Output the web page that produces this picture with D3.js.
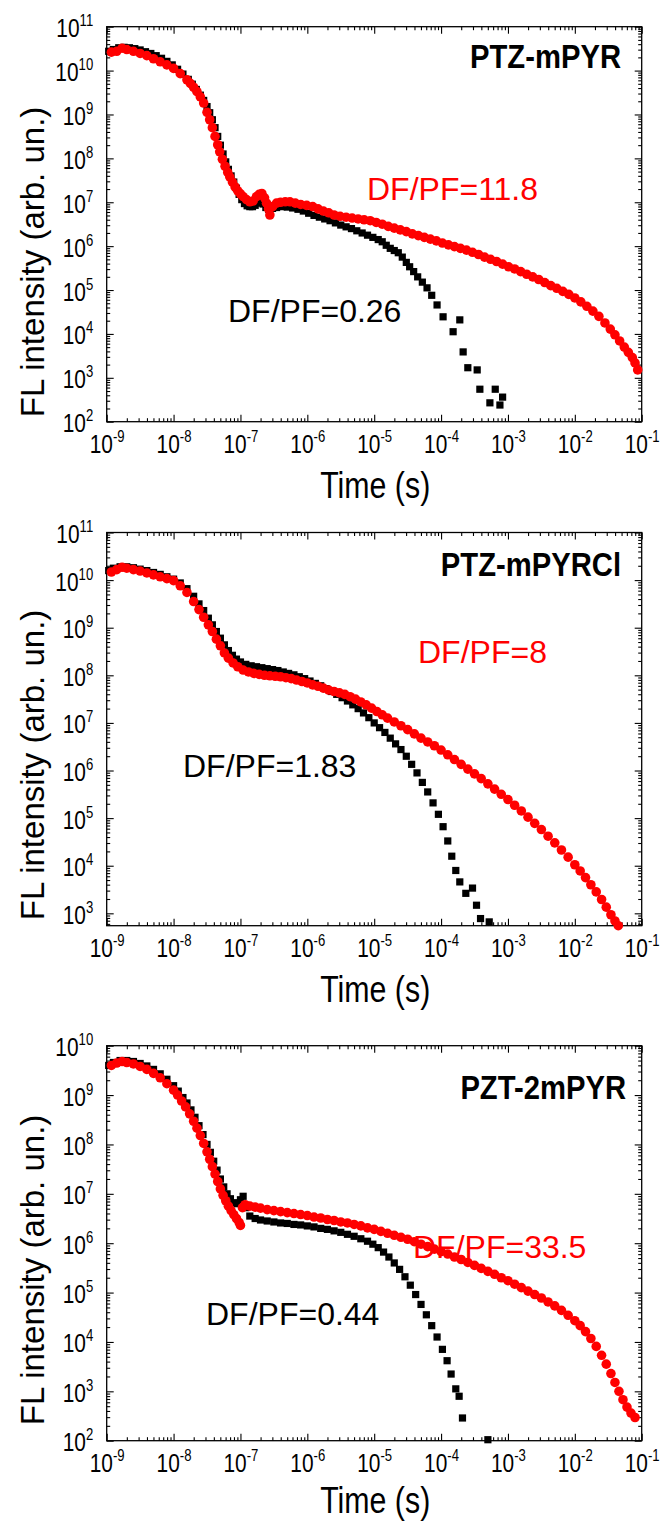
<!DOCTYPE html>
<html>
<head>
<meta charset="utf-8">
<title>FL decays</title>
<script src="https://cdnjs.cloudflare.com/ajax/libs/d3/7.8.5/d3.min.js"></script>
<style>
  body { margin: 0; background: #fff; }
  svg text { font-family: "Liberation Sans", Arial, sans-serif; fill: #000; }
  .frame { fill: none; stroke: #000; stroke-width: 1.3px; }
  .tick line { stroke: #000; stroke-width: 1.1px; }
  .domain { display: none; }
</style>
</head>
<body>
<div id="canvas"></div>
<script>
// every point is [log10 time (s), log10 FL intensity]
var p1Black = [[-8.97,10.44],[-8.9,10.48],[-8.82,10.52],[-8.74,10.53],[-8.66,10.52],[-8.58,10.5],[-8.5,10.47],[-8.42,10.43],[-8.34,10.39],[-8.26,10.34],[-8.18,10.28],[-8.1,10.21],[-8.02,10.13],[-7.94,10.03],[-7.86,9.92],[-7.78,9.8],[-7.72,9.69],[-7.66,9.57],[-7.6,9.44],[-7.55,9.32],[-7.5,9.18],[-7.46,9.04],[-7.42,8.88],[-7.38,8.7],[-7.34,8.5],[-7.3,8.3],[-7.26,8.1],[-7.22,7.92],[-7.18,7.75],[-7.14,7.6],[-7.1,7.46],[-7.06,7.32],[-7.02,7.18],[-6.98,7.06],[-6.94,6.97],[-6.9,6.92],[-6.86,6.9],[-6.82,6.9],[-6.78,6.93],[-6.74,6.98],[-6.7,7.02],[-6.66,6.96],[-6.62,6.88],[-6.58,6.84],[-6.52,6.86],[-6.46,6.88],[-6.38,6.9],[-6.3,6.89],[-6.22,6.87],[-6.14,6.84],[-6.06,6.8],[-5.98,6.75],[-5.9,6.7],[-5.82,6.66],[-5.74,6.62],[-5.66,6.58],[-5.58,6.53],[-5.5,6.48],[-5.42,6.44],[-5.34,6.4],[-5.26,6.35],[-5.18,6.3],[-5.1,6.25],[-5.02,6.2],[-4.94,6.15],[-4.88,6.1],[-4.82,6.02],[-4.76,5.95],[-4.7,5.9],[-4.64,5.85],[-4.58,5.75],[-4.52,5.63],[-4.47,5.53],[-4.41,5.42],[-4.35,5.3],[-4.28,5.18],[-4.21,5.05],[-4.14,4.88],[-4.06,4.66],[-3.97,4.39],[-3.82,4.05],[-3.72,4.32],[-3.67,3.59],[-3.6,3.23],[-3.46,3.18],[-3.42,2.74],[-3.27,2.43],[-3.19,2.74],[-3.12,2.38],[-3.08,2.56]];
var p1Red = [[-8.93,10.42],[-8.85,10.44],[-8.77,10.51],[-8.7,10.48],[-8.6,10.44],[-8.5,10.39],[-8.4,10.34],[-8.3,10.27],[-8.2,10.2],[-8.1,10.13],[-8.0,10.05],[-7.9,9.93],[-7.8,9.79],[-7.75,9.71],[-7.7,9.62],[-7.65,9.52],[-7.6,9.4],[-7.55,9.26],[-7.5,9.05],[-7.46,8.88],[-7.42,8.7],[-7.38,8.5],[-7.34,8.31],[-7.31,8.15],[-7.27,7.98],[-7.23,7.82],[-7.19,7.68],[-7.16,7.58],[-7.12,7.46],[-7.08,7.35],[-7.04,7.26],[-7.0,7.19],[-6.96,7.13],[-6.91,7.06],[-6.86,7.01],[-6.81,7.03],[-6.76,7.13],[-6.72,7.18],[-6.68,7.2],[-6.64,7.1],[-6.61,6.98],[-6.58,6.85],[-6.56,6.71],[-6.52,6.9],[-6.46,6.98],[-6.4,7.0],[-6.33,7.01],[-6.26,7.01],[-6.18,6.98],[-6.1,6.95],[-6.01,6.93],[-5.92,6.9],[-5.84,6.85],[-5.76,6.8],[-5.68,6.76],[-5.6,6.71],[-5.51,6.68],[-5.42,6.66],[-5.33,6.64],[-5.24,6.62],[-5.15,6.6],[-5.06,6.58],[-4.97,6.54],[-4.88,6.5],[-4.79,6.45],[-4.7,6.41],[-4.61,6.37],[-4.52,6.33],[-4.43,6.28],[-4.34,6.24],[-4.25,6.2],[-4.16,6.16],[-4.07,6.12],[-3.98,6.07],[-3.89,6.03],[-3.8,5.99],[-3.71,5.95],[-3.62,5.91],[-3.53,5.86],[-3.44,5.81],[-3.35,5.75],[-3.26,5.7],[-3.17,5.65],[-3.08,5.59],[-2.99,5.53],[-2.9,5.48],[-2.81,5.42],[-2.72,5.36],[-2.63,5.3],[-2.54,5.24],[-2.45,5.17],[-2.36,5.1],[-2.27,5.04],[-2.18,4.97],[-2.09,4.9],[-2.0,4.82],[-1.91,4.73],[-1.82,4.63],[-1.73,4.52],[-1.64,4.4],[-1.55,4.25],[-1.47,4.11],[-1.4,3.98],[-1.33,3.84],[-1.26,3.7],[-1.2,3.58],[-1.14,3.46],[-1.1,3.34],[-1.06,3.18]];

var p2Black = [[-8.97,10.2],[-8.9,10.25],[-8.8,10.28],[-8.7,10.28],[-8.6,10.26],[-8.5,10.23],[-8.4,10.2],[-8.3,10.16],[-8.2,10.12],[-8.1,10.07],[-8.0,10.02],[-7.9,9.94],[-7.8,9.82],[-7.7,9.66],[-7.62,9.5],[-7.55,9.36],[-7.48,9.2],[-7.42,9.06],[-7.36,8.92],[-7.3,8.78],[-7.24,8.64],[-7.18,8.52],[-7.12,8.42],[-7.06,8.34],[-7.0,8.28],[-6.92,8.23],[-6.84,8.2],[-6.76,8.18],[-6.68,8.16],[-6.6,8.14],[-6.52,8.12],[-6.44,8.1],[-6.36,8.07],[-6.28,8.04],[-6.2,8.01],[-6.12,7.97],[-6.04,7.93],[-5.96,7.88],[-5.88,7.83],[-5.8,7.78],[-5.72,7.72],[-5.64,7.66],[-5.56,7.6],[-5.48,7.53],[-5.4,7.46],[-5.32,7.38],[-5.24,7.3],[-5.16,7.21],[-5.08,7.11],[-5.0,7.0],[-4.92,6.9],[-4.84,6.8],[-4.76,6.68],[-4.68,6.56],[-4.6,6.44],[-4.52,6.3],[-4.44,6.13],[-4.36,5.95],[-4.28,5.75],[-4.2,5.55],[-4.12,5.32],[-4.04,5.08],[-3.97,4.82],[-3.9,4.52],[-3.84,4.2],[-3.78,3.9],[-3.72,3.66],[-3.63,3.42],[-3.53,3.53],[-3.47,3.17],[-3.41,2.89],[-3.28,2.82]];
var p2Red = [[-8.93,10.17],[-8.85,10.22],[-8.77,10.27],[-8.7,10.25],[-8.6,10.22],[-8.5,10.19],[-8.4,10.15],[-8.3,10.11],[-8.2,10.07],[-8.1,10.03],[-8.0,9.99],[-7.9,9.88],[-7.8,9.74],[-7.7,9.55],[-7.62,9.38],[-7.55,9.22],[-7.48,9.06],[-7.42,8.92],[-7.36,8.76],[-7.3,8.62],[-7.24,8.47],[-7.18,8.36],[-7.11,8.26],[-7.04,8.18],[-6.96,8.11],[-6.88,8.07],[-6.8,8.04],[-6.72,8.02],[-6.64,8.0],[-6.56,7.99],[-6.48,7.98],[-6.4,7.97],[-6.32,7.95],[-6.24,7.93],[-6.16,7.9],[-6.08,7.87],[-6.0,7.84],[-5.92,7.8],[-5.84,7.77],[-5.76,7.73],[-5.68,7.69],[-5.6,7.66],[-5.52,7.63],[-5.44,7.6],[-5.36,7.55],[-5.28,7.5],[-5.2,7.44],[-5.12,7.38],[-5.04,7.31],[-4.96,7.24],[-4.88,7.17],[-4.8,7.1],[-4.7,7.02],[-4.6,6.94],[-4.5,6.86],[-4.4,6.77],[-4.3,6.68],[-4.2,6.6],[-4.1,6.52],[-4.0,6.43],[-3.9,6.33],[-3.8,6.23],[-3.7,6.13],[-3.6,6.03],[-3.5,5.93],[-3.4,5.83],[-3.3,5.72],[-3.2,5.61],[-3.1,5.5],[-3.0,5.39],[-2.9,5.27],[-2.8,5.15],[-2.7,5.02],[-2.6,4.89],[-2.5,4.76],[-2.4,4.62],[-2.3,4.48],[-2.2,4.33],[-2.1,4.18],[-2.0,4.02],[-1.92,3.89],[-1.84,3.75],[-1.76,3.6],[-1.68,3.45],[-1.6,3.29],[-1.53,3.13],[-1.46,2.97],[-1.4,2.84],[-1.35,2.74]];

var p3Black = [[-8.97,9.6],[-8.9,9.66],[-8.8,9.7],[-8.7,9.7],[-8.6,9.68],[-8.5,9.64],[-8.4,9.59],[-8.3,9.52],[-8.2,9.43],[-8.1,9.32],[-8.0,9.19],[-7.93,9.08],[-7.86,8.95],[-7.8,8.84],[-7.74,8.7],[-7.68,8.55],[-7.62,8.38],[-7.56,8.2],[-7.5,8.0],[-7.45,7.84],[-7.4,7.66],[-7.35,7.48],[-7.3,7.3],[-7.25,7.14],[-7.2,7.0],[-7.15,6.9],[-7.1,6.82],[-7.05,6.8],[-7.0,6.88],[-6.96,6.95],[-6.92,6.72],[-6.86,6.55],[-6.78,6.5],[-6.7,6.47],[-6.6,6.45],[-6.5,6.43],[-6.4,6.41],[-6.3,6.4],[-6.2,6.38],[-6.1,6.37],[-6.0,6.35],[-5.9,6.33],[-5.8,6.3],[-5.7,6.28],[-5.6,6.25],[-5.5,6.22],[-5.4,6.18],[-5.3,6.14],[-5.2,6.09],[-5.1,6.04],[-5.02,5.98],[-4.94,5.91],[-4.86,5.82],[-4.78,5.72],[-4.7,5.6],[-4.62,5.47],[-4.54,5.32],[-4.46,5.15],[-4.38,4.96],[-4.3,4.76],[-4.22,4.55],[-4.14,4.33],[-4.06,4.1],[-3.98,3.85],[-3.91,3.62],[-3.85,3.35],[-3.78,3.05],[-3.73,2.9],[-3.68,2.46],[-3.3,2.02]];
var p3Red = [[-8.93,9.6],[-8.85,9.65],[-8.77,9.68],[-8.7,9.66],[-8.6,9.63],[-8.5,9.58],[-8.4,9.52],[-8.3,9.44],[-8.2,9.35],[-8.1,9.23],[-8.0,9.1],[-7.94,9.0],[-7.88,8.88],[-7.82,8.76],[-7.76,8.62],[-7.7,8.47],[-7.65,8.33],[-7.6,8.18],[-7.55,8.02],[-7.5,7.85],[-7.46,7.7],[-7.42,7.55],[-7.38,7.4],[-7.34,7.25],[-7.3,7.1],[-7.26,6.97],[-7.22,6.86],[-7.18,6.75],[-7.14,6.66],[-7.1,6.58],[-7.06,6.5],[-7.02,6.42],[-7.0,6.36],[-6.97,6.72],[-6.93,6.78],[-6.86,6.75],[-6.78,6.73],[-6.7,6.71],[-6.6,6.68],[-6.5,6.66],[-6.4,6.64],[-6.3,6.62],[-6.2,6.6],[-6.1,6.58],[-6.0,6.56],[-5.9,6.53],[-5.8,6.51],[-5.7,6.48],[-5.6,6.46],[-5.5,6.43],[-5.4,6.41],[-5.3,6.38],[-5.2,6.35],[-5.1,6.31],[-5.0,6.28],[-4.9,6.24],[-4.8,6.2],[-4.7,6.16],[-4.6,6.12],[-4.5,6.08],[-4.4,6.03],[-4.3,5.98],[-4.2,5.93],[-4.1,5.88],[-4.0,5.83],[-3.9,5.78],[-3.8,5.72],[-3.7,5.67],[-3.6,5.61],[-3.5,5.55],[-3.4,5.49],[-3.3,5.43],[-3.2,5.37],[-3.1,5.3],[-3.0,5.24],[-2.9,5.17],[-2.8,5.1],[-2.7,5.03],[-2.6,4.96],[-2.5,4.89],[-2.4,4.81],[-2.3,4.73],[-2.2,4.64],[-2.1,4.54],[-2.0,4.43],[-1.92,4.33],[-1.84,4.21],[-1.76,4.07],[-1.68,3.91],[-1.6,3.73],[-1.53,3.55],[-1.46,3.36],[-1.4,3.18],[-1.34,3.0],[-1.28,2.83],[-1.22,2.68],[-1.16,2.56],[-1.1,2.47]];

var panelNames = ["PTZ-mPYR", "PTZ-mPYRCl", "PZT-2mPYR"];
var blackLabels = ["DF/PF=0.26", "DF/PF=1.83", "DF/PF=0.44"];
var redLabels = ["DF/PF=11.8", "DF/PF=8", "DF/PF=33.5"];
var yDomains = [[1e2, 1e11], [Math.pow(10, 2.74), 1e11], [1e2, 1e10]];
var xTickExps = [-9, -8, -7, -6, -5, -4, -3, -2, -1];
var xTitle = "Time (s)";
var yTitle = "FL intensity (arb. un.)";

/*
 Layout
*/
var W = 662, H = 1521, plotLeft = 106.7, plotRight = 641.7, narrow = 0.82;
var panels = [
  { top: 26.7, bottom: 421.7, xTitleY: 498, titleAt: [621, 68], blackAt: [228, 322], redAt: [367, 200], yTitleY: 262, black: p1Black, red: p1Red },
  { top: 532.5, bottom: 925.7, xTitleY: 1002, titleAt: [621, 576], blackAt: [183, 777], redAt: [418, 663], yTitleY: 765, black: p2Black, red: p2Red },
  { top: 1045.7, bottom: 1440.7, xTitleY: 1513, titleAt: [626, 1099], blackAt: [206, 1325], redAt: [413, 1258], yTitleY: 1270, black: p3Black, red: p3Red }
];

var svg = d3.select("#canvas").append("svg")
  .attr("width", W)
  .attr("height", H);

function pow10(e) { return Math.pow(10, e); }

function minorTicks(lo, hi) {
  var out = [];
  for (var e = Math.floor(Math.log10(lo)); e < Math.ceil(Math.log10(hi)); e++) {
    for (var k = 2; k < 10; k++) {
      var v = k * pow10(e);
      if (v > lo && v < hi) out.push(v);
    }
  }
  return out;
}

function supLabel(sel, exp) {
  sel.text(null);
  sel.append("tspan").attr("font-size", 25.5).text("10");
  sel.append("tspan").attr("font-size", 16).attr("dy", -11).text(exp);
}

function drawPanel(p, i) {
  var w = plotRight - plotLeft, h = p.bottom - p.top;
  var x = d3.scaleLog().domain([1e-9, 1e-1]).range([0, w]);
  var y = d3.scaleLog().domain(yDomains[i]).range([h, 0]);

  var g = svg.append("g").attr("transform", "translate(" + plotLeft + "," + p.top + ")");

  var xMajor = xTickExps.map(pow10);
  var xMinor = minorTicks(1e-9, 1e-1);
  var yLo = yDomains[i][0], yHi = yDomains[i][1];
  var yMajor = d3.range(Math.ceil(Math.log10(yLo) - 1e-9), Math.floor(Math.log10(yHi) + 1e-9) + 1).map(pow10);
  var yMinor = minorTicks(yLo, yHi);

  // minor ticks, all four sides, pointing inward
  g.append("g").attr("transform", "translate(0," + h + ")")
    .call(d3.axisBottom(x).tickValues(xMinor).tickSize(-3.5).tickFormat(""));
  g.append("g").call(d3.axisTop(x).tickValues(xMinor).tickSize(-3.5).tickFormat(""));
  g.append("g").call(d3.axisLeft(y).tickValues(yMinor).tickSize(-3.5).tickFormat(""));
  g.append("g").attr("transform", "translate(" + w + ",0)")
    .call(d3.axisRight(y).tickValues(yMinor).tickSize(-3.5).tickFormat(""));

  // major ticks
  var gx = g.append("g").attr("transform", "translate(0," + h + ")")
    .call(d3.axisBottom(x).tickValues(xMajor).tickSize(-7).tickFormat(""));
  g.append("g").call(d3.axisTop(x).tickValues(xMajor).tickSize(-7).tickFormat(""));
  var gy = g.append("g")
    .call(d3.axisLeft(y).tickValues(yMajor).tickSize(-7).tickFormat(""));
  g.append("g").attr("transform", "translate(" + w + ",0)")
    .call(d3.axisRight(y).tickValues(yMajor).tickSize(-7).tickFormat(""));

  gx.selectAll(".tick text")
    .attr("y", 31).attr("dy", null)
    .attr("transform", "scale(" + narrow + ",1)")
    .attr("text-anchor", "middle")
    .each(function (d) { supLabel(d3.select(this), Math.round(Math.log10(d))); });

  gy.selectAll(".tick text")
    .attr("x", 0).attr("y", 10).attr("dy", null)
    .attr("transform", "translate(-13.5,0) scale(" + narrow + ",1)")
    .attr("text-anchor", "end")
    .each(function (d) { supLabel(d3.select(this), Math.round(Math.log10(d))); });

  g.append("rect").attr("class", "frame").attr("width", w).attr("height", h);

  // data: black squares under red circles
  g.append("g").selectAll("rect")
    .data(p.black)
    .enter()
    .append("rect")
    .attr("x", (d) => x(pow10(d[0])) - 3.6)
    .attr("y", (d) => y(pow10(d[1])) - 3.6)
    .attr("width", 7.2)
    .attr("height", 7.2)
    .attr("fill", "#000");

  g.append("g").selectAll("circle")
    .data(p.red)
    .enter()
    .append("circle")
    .attr("cx", (d) => x(pow10(d[0])))
    .attr("cy", (d) => y(pow10(d[1])))
    .attr("r", 4.8)
    .attr("fill", "#ff0000");

  // texts
  svg.append("text")
    .attr("transform", "translate(" + p.titleAt[0] + "," + p.titleAt[1] + ") scale(0.86,1)")
    .attr("text-anchor", "end")
    .attr("font-size", 34).attr("font-weight", "bold")
    .text(panelNames[i]);

  svg.append("text")
    .attr("x", p.blackAt[0]).attr("y", p.blackAt[1])
    .attr("font-size", 32)
    .text(blackLabels[i]);

  svg.append("text")
    .attr("x", p.redAt[0]).attr("y", p.redAt[1])
    .attr("font-size", 32)
    .style("fill", "#ff0000")
    .text(redLabels[i]);

  svg.append("text")
    .attr("transform", "translate(" + (plotLeft + w / 2 + 1) + "," + p.xTitleY + ") scale(" + narrow + ",1)")
    .attr("text-anchor", "middle")
    .attr("font-size", 37)
    .text(xTitle);

  svg.append("text")
    .attr("transform", "translate(44," + p.yTitleY + ") rotate(-90)")
    .attr("text-anchor", "middle")
    .attr("font-size", 33)
    .text(yTitle);
}

panels.forEach(drawPanel);
</script>
</body>
</html>
